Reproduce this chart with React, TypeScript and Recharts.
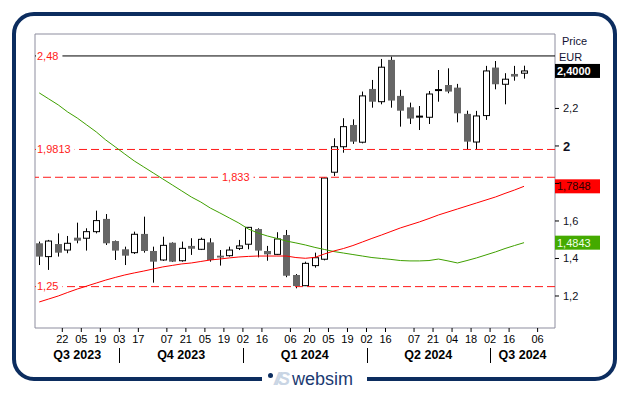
import React from "react";
import {
  ComposedChart,
  Bar,
  Line,
  XAxis,
  YAxis,
  ReferenceLine,
  ReferenceArea,
} from "recharts";

// weekly candles, x = days from 03.10.2023
const FIRST_WEEK = -59;

const opens = [
  1.481, 1.41, 1.477, 1.445, 1.511, 1.508, 1.543, 1.611, 1.493, 1.449, 1.431, 1.531, 1.44,
  1.392, 1.484, 1.388, 1.467, 1.449, 1.486, 1.415, 1.415, 1.454, 1.476, 1.557, 1.44, 1.422,
  1.525, 1.312, 1.255, 1.362, 1.396, 1.86, 1.996, 2.112, 2.02, 2.304, 2.236, 2.459, 2.267,
  2.206, 2.158, 2.153, 2.3, 2.325, 2.311, 2.171, 2.021, 2.162, 2.418, 2.329, 2.384, 2.388,
];
const highs = [
  1.49, 1.499, 1.534, 1.52, 1.591, 1.561, 1.655, 1.637, 1.496, 1.463, 1.543, 1.623, 1.463,
  1.516, 1.486, 1.49, 1.508, 1.511, 1.508, 1.445, 1.463, 1.499, 1.568, 1.561, 1.467, 1.54,
  1.552, 1.317, 1.383, 1.431, 1.832, 2.041, 2.148, 2.142, 2.29, 2.352, 2.464, 2.476, 2.299,
  2.231, 2.213, 2.293, 2.405, 2.414, 2.331, 2.188, 2.187, 2.427, 2.453, 2.388, 2.427, 2.428,
];
const lows = [
  1.365, 1.339, 1.41, 1.428, 1.481, 1.442, 1.534, 1.472, 1.392, 1.365, 1.424, 1.431, 1.271,
  1.387, 1.381, 1.383, 1.419, 1.445, 1.383, 1.362, 1.41, 1.445, 1.449, 1.406, 1.388, 1.419,
  1.3, 1.241, 1.253, 1.351, 1.39, 1.84, 1.964, 2.011, 2.014, 2.204, 2.222, 2.204, 2.103,
  2.117, 2.085, 2.117, 2.236, 2.281, 2.126, 1.982, 1.982, 2.139, 2.302, 2.222, 2.348, 2.359,
];
const closes = [
  1.41, 1.493, 1.431, 1.481, 1.495, 1.543, 1.602, 1.481, 1.442, 1.415, 1.529, 1.44, 1.383,
  1.47, 1.383, 1.454, 1.452, 1.502, 1.392, 1.405, 1.445, 1.467, 1.566, 1.442, 1.422, 1.504,
  1.308, 1.253, 1.374, 1.404, 1.829, 1.996, 2.103, 2.023, 2.267, 2.236, 2.42, 2.242, 2.188,
  2.146, 2.155, 2.277, 2.296, 2.29, 2.174, 2.023, 2.16, 2.4, 2.329, 2.356, 2.37, 2.4,
];
const maRed = [
  1.168, 1.184, 1.2, 1.219, 1.237, 1.253, 1.269, 1.285, 1.299, 1.312, 1.323, 1.333, 1.344,
  1.355, 1.363, 1.371, 1.376, 1.384, 1.392, 1.397, 1.403, 1.408, 1.411, 1.413, 1.413, 1.413,
  1.413, 1.405, 1.401, 1.406, 1.424, 1.44, 1.453, 1.469, 1.488, 1.507, 1.525, 1.544, 1.563,
  1.579, 1.595, 1.613, 1.632, 1.648, 1.664, 1.68, 1.696, 1.712, 1.728, 1.747, 1.765, 1.7848,
];
const maGreen = [
  2.283, 2.251, 2.219, 2.181, 2.149, 2.112, 2.075, 2.032, 1.995, 1.957, 1.92, 1.888, 1.856,
  1.824, 1.792, 1.76, 1.728, 1.701, 1.669, 1.643, 1.616, 1.589, 1.557, 1.536, 1.52, 1.507,
  1.493, 1.483, 1.472, 1.459, 1.448, 1.437, 1.429, 1.421, 1.413, 1.405, 1.4, 1.395, 1.389,
  1.387, 1.387, 1.389, 1.397, 1.387, 1.376, 1.389, 1.403, 1.419, 1.435, 1.453, 1.469, 1.4843,
];

const dateTicks = [
  -42, -28, -14, 0, 14, 35, 49, 63, 77, 91, 105, 126, 140, 154, 168, 182, 196, 217, 231, 245,
  259, 273, 287, 308,
];
const dateLabels = [
  "22", "05", "19", "03", "17", "07", "21", "05", "19", "02", "16", "06", "20", "05", "19",
  "02", "16", "07", "21", "04", "18", "02", "16", "06",
];
const quarterStarts = [0, 91, 182, 273];
const quarterNames = ["Q3 2023", "Q4 2023", "Q1 2024", "Q2 2024", "Q3 2024"];
const priceTicks = [1.2, 1.4, 1.6, 1.8, 2, 2.2, 2.4];

const X_DOMAIN: [number, number] = [-62.1, 320.8];
const Y_DOMAIN: [number, number] = [1.0293, 2.597];

const FONT = "'Liberation Sans', Arial, sans-serif";
const NAVY = "#0c2d5f";

const data = opens.map((o, i) => ({
  d: FIRST_WEEK + i * 7,
  o,
  h: highs[i],
  l: lows[i],
  c: closes[i],
  hl: [lows[i], highs[i]],
  red: maRed[i],
  green: maGreen[i],
}));

const lastClose = closes[closes.length - 1];
const lastRed = maRed[maRed.length - 1];
const lastGreen = maGreen[maGreen.length - 1];
const tagValues = [lastClose, lastRed, lastGreen];

const bounds = [X_DOMAIN[0], ...quarterStarts, X_DOMAIN[1]];
const quarterMids = bounds.slice(0, -1).map((b, i) => (b + bounds[i + 1]) / 2);
const quarterTicks = [...quarterStarts, ...quarterMids].sort((a, b) => a - b);

const fmt = (v: number, digits: number) => v.toFixed(digits).replace(".", ",");
const textWidth = (s: string) =>
  s.split("").reduce((acc, ch) => acc + (ch === "," ? 3.06 : 6.12), 0);

function Candle(props: any) {
  const { x, y, width, height, payload } = props;
  if (x == null || !payload) return null;
  const { o, h, l, c } = payload;
  const span = h - l || 1;
  const py = (v: number) => y + ((h - v) / span) * height;
  const cx = Math.round(x + width / 2) + 0.5;
  const top = py(Math.max(o, c));
  const bot = py(Math.min(o, c));
  const bodyH = bot - top;
  let body;
  if (bodyH < 1.5) {
    body = <rect x={cx - 3.5} y={(top + bot) / 2 - 1} width={7} height={2} fill="#000" />;
  } else if (c > o) {
    body = (
      <rect x={cx - 3} y={top} width={6} height={bodyH} fill="#fff" stroke="#000" strokeWidth={1} />
    );
  } else {
    body = <rect x={cx - 3.5} y={top} width={7} height={bodyH} fill="#666" />;
  }
  return (
    <g>
      <line x1={cx} x2={cx} y1={y} y2={y + height} stroke="#000" strokeWidth={1} />
      {body}
    </g>
  );
}

function LevelLabel(props: any) {
  const { viewBox, text, at = 2, padL = 1 } = props;
  if (!viewBox) return null;
  const tx = viewBox.x + at;
  const w = textWidth(text);
  return (
    <g>
      <rect x={tx - padL} y={viewBox.y - 6} width={w + padL + 4} height={12} fill="#fff" />
      <text x={tx} y={viewBox.y} dy="0.35em" fill="#ff1a1a" fontSize={11} fontFamily={FONT}>
        {text}
      </text>
    </g>
  );
}

function PriceTag(props: any) {
  const { viewBox, text, bg, color, bold } = props;
  if (!viewBox) return null;
  const x = viewBox.x + viewBox.width;
  return (
    <g>
      <rect x={x} y={viewBox.y - 7} width={45} height={14} fill={bg} />
      <text
        x={x + 2}
        y={viewBox.y}
        dy="0.36em"
        fill={color}
        fontSize={11}
        fontWeight={bold ? "bold" : "normal"}
        fontFamily={FONT}
      >
        {text}
      </text>
    </g>
  );
}

function PriceTick(props: any) {
  const { x, y, payload } = props;
  const v = payload.value;
  if (tagValues.some((t) => Math.abs(t - v) < 0.05)) return null;
  const major = v === 2;
  return (
    <text
      x={x}
      y={y}
      dy="0.36em"
      fill="#111122"
      fontSize={major ? 13 : 11}
      fontWeight={major ? "bold" : "normal"}
      fontFamily={FONT}
    >
      {major ? "2" : fmt(v, 1)}
    </text>
  );
}

function DateTick(props: any) {
  const { x, y, payload } = props;
  const idx = dateTicks.indexOf(payload.value);
  return (
    <text x={x} y={y} dy="0.71em" textAnchor="middle" fill="#000" fontSize={11} fontFamily={FONT}>
      {dateLabels[idx]}
    </text>
  );
}

function QuarterTick(props: any) {
  const { x, y, payload } = props;
  const v = payload.value;
  if (quarterStarts.includes(v)) {
    const lx = Math.round(x) + 0.5;
    return <line x1={lx} x2={lx} y1={y + 2} y2={y + 17} stroke="#000" strokeWidth={1} />;
  }
  const idx = quarterMids.indexOf(v);
  return (
    <text
      x={x}
      y={y + 12.5}
      textAnchor="middle"
      fill="#000"
      fontSize={12.5}
      fontWeight="bold"
      fontFamily={FONT}
    >
      {quarterNames[idx]}
    </text>
  );
}

export default function App() {
  return (
    <div
      style={{
        position: "absolute",
        left: 0,
        top: 0,
        width: 629,
        height: 395,
        background: "#fff",
        fontFamily: FONT,
      }}
    >
      <div
        style={{
          position: "absolute",
          left: 12,
          top: 12,
          width: 605,
          height: 369,
          border: `4px solid ${NAVY}`,
          borderRadius: 22,
          boxSizing: "border-box",
        }}
      />
      <ComposedChart
        width={629}
        height={395}
        data={data}
        margin={{ top: 34, left: 35, right: 0, bottom: 0 }}
        style={{ position: "absolute", left: 0, top: 0 }}
      >
        <ReferenceArea
          x1={X_DOMAIN[0]}
          x2={X_DOMAIN[1]}
          y1={Y_DOMAIN[0]}
          y2={Y_DOMAIN[1]}
          fill="none"
          stroke="#8d8d9e"
          strokeWidth={1}
        />
        <XAxis
          dataKey="d"
          type="number"
          domain={X_DOMAIN}
          allowDataOverflow
          ticks={dateTicks}
          interval={0}
          height={18}
          axisLine={false}
          tickSize={4}
          tickMargin={3}
          tickLine={{ stroke: "#000" }}
          tick={<DateTick />}
        />
        <XAxis
          xAxisId="q"
          dataKey="d"
          type="number"
          domain={X_DOMAIN}
          allowDataOverflow
          ticks={quarterTicks}
          interval={0}
          height={49}
          axisLine={false}
          tickLine={false}
          tickSize={0}
          tickMargin={0}
          tick={<QuarterTick />}
        />
        <YAxis
          orientation="right"
          domain={Y_DOMAIN}
          allowDataOverflow
          ticks={priceTicks}
          interval={0}
          width={74}
          axisLine={false}
          tickSize={4}
          tickMargin={4}
          tickLine={{ stroke: "#000" }}
          tick={<PriceTick />}
        />
        <ReferenceLine
          y={2.48}
          stroke="#000"
          strokeWidth={1}
          label={<LevelLabel text="2,48" />}
        />
        <ReferenceLine
          y={1.9813}
          stroke="#ff1a1a"
          strokeDasharray="8 4"
          label={<LevelLabel text="1,9813" />}
        />
        <ReferenceLine
          y={1.833}
          stroke="#ff1a1a"
          strokeDasharray="8 4"
          label={<LevelLabel text="1,833" at={187} padL={4} />}
        />
        <ReferenceLine
          y={1.25}
          stroke="#ff1a1a"
          strokeDasharray="8 4"
          label={<LevelLabel text="1,25" />}
        />
        <Bar
          dataKey="hl"
          barSize={7}
          shape={(p: any) => <Candle {...p} />}
          isAnimationActive={false}
        />
        <Line
          dataKey="green"
          stroke="#3fa000"
          strokeWidth={1}
          dot={false}
          isAnimationActive={false}
        />
        <Line
          dataKey="red"
          stroke="#ff0000"
          strokeWidth={1}
          dot={false}
          isAnimationActive={false}
        />
        <ReferenceLine
          y={lastClose}
          stroke="none"
          label={<PriceTag text={fmt(lastClose, 4)} bg="#000" color="#fff" bold />}
        />
        <ReferenceLine
          y={lastRed}
          stroke="none"
          label={<PriceTag text={fmt(lastRed, 4)} bg="#ff0000" color="#2a0000" />}
        />
        <ReferenceLine
          y={lastGreen}
          stroke="none"
          label={<PriceTag text={fmt(lastGreen, 4)} bg="#44aa00" color="#f0ffe8" />}
        />
      </ComposedChart>
      <div style={{ position: "absolute", left: 562, top: 35, fontSize: 11, color: "#111133" }}>
        Price
      </div>
      <div style={{ position: "absolute", left: 559, top: 51, fontSize: 11, color: "#111133" }}>
        EUR
      </div>
      <div
        style={{
          position: "absolute",
          left: 262,
          top: 366,
          width: 105,
          height: 26,
          background: "#fff",
          display: "flex",
          alignItems: "center",
        }}
      >
        <div
          style={{
            width: 5,
            height: 5,
            borderRadius: 3,
            background: NAVY,
            marginLeft: 6,
            marginTop: -8,
          }}
        />
        <span
          style={{
            fontSize: 18,
            fontWeight: "bold",
            fontStyle: "italic",
            color: "#c9d5e4",
            letterSpacing: -3,
            marginLeft: 1,
          }}
        >
          //S
        </span>
        <span style={{ fontSize: 18, color: "#1b3a72", marginLeft: 5 }}>websim</span>
      </div>
    </div>
  );
}
